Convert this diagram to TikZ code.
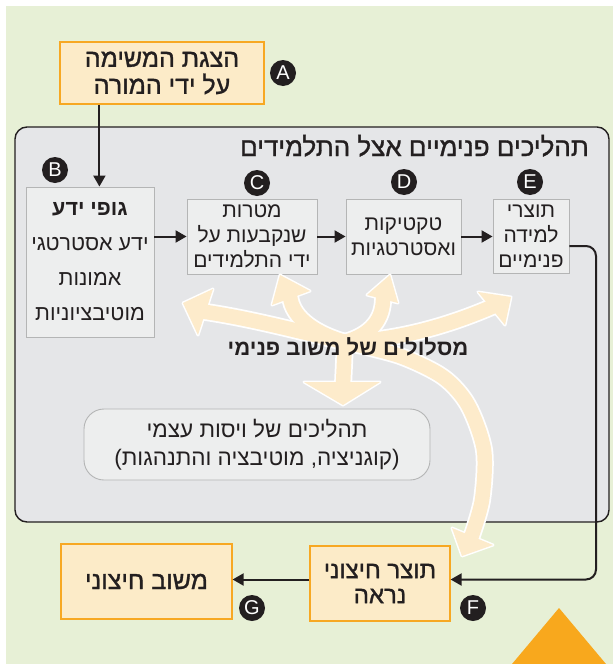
\documentclass[tikz,border=0pt]{standalone}
\usepackage{fontspec}
\setmainfont{Liberation Sans}
\newfontfamily\heb[Script=Hebrew]{Liberation Sans}
\newfontfamily\hebmed[Script=Hebrew,FakeBold=1.2]{Liberation Sans}
\usetikzlibrary{arrows.meta}
\TeXXeTstate=1
\newcommand\R[1]{\beginR #1\endR}
\newcommand\fs[2]{\fontsize{#1}{#2}\selectfont}
\definecolor{bggreen}{HTML}{E7F0D6}
\definecolor{panelgray}{HTML}{E5E6E8}
\definecolor{boxgray}{HTML}{EDEEEE}
\definecolor{boxline}{HTML}{B4B5B5}
\definecolor{orfill}{HTML}{FCEBC8}
\definecolor{orline}{HTML}{F7A823}
\definecolor{cream}{HTML}{FDEBCB}
\definecolor{ink}{HTML}{231F20}
\definecolor{tri}{HTML}{F8A81D}
\newcommand\starshafts[1]{%
  \draw[#1] (O) .. controls (300,332) and (250,318) .. (199,311);
  \draw[#1] (O) .. controls (320,335) and (292,320) .. (290,296);
  \draw[#1] (O) .. controls (370,335) and (384,320) .. (383,296);
  \draw[#1] (O) .. controls (400,340) and (450,325) .. (494,306);
  \draw[#1] (O) -- (343,385);
  \draw[#1] plot[smooth] coordinates {(O) (400,356) (443,377) (468,405) (484,450) (482,500) (471,538)};
}
\newcommand\starheads[1]{%
  \path[#1] (183,303) -- (213,289) -- (198,335) -- cycle;
  \path[#1] (280,275) -- (310,291) -- (272,305) -- cycle;
  \path[#1] (390,275) -- (398,303) -- (367,295) -- cycle;
  \path[#1] (511,297) -- (505,325) -- (478,292) -- cycle;
  \path[#1] (343,405) -- (304,382) -- (380,382) -- cycle;
  \path[#1] (462,556) -- (452,528) -- (493,545) -- cycle;
}
\begin{document}
\begin{tikzpicture}[x=1pt,y=-1pt,
  every node/.style={text=ink},
  orbox/.style={draw=orline,fill=orfill,line width=1.2pt,align=center,inner sep=0pt},
  gbox/.style={draw=boxline,fill=boxgray,line width=0.9pt,align=center,inner sep=0pt},
  badge/.style={circle,fill=ink,text=white,minimum size=26pt,inner sep=0pt,font=\fs{20}{20}},
  arr/.style={draw=ink,line width=2pt,-{Triangle[length=11pt,width=12pt]}}]
\useasboundingbox (0,0) rectangle (613,664);
\fill[white] (0,0) rectangle (613,664);
\fill[bggreen] (6,6) rectangle (613,664);
% panel
\path[draw=ink,fill=panelgray,line width=1.4pt,rounded corners=12pt] (15,127) rectangle (609,522);
\node[anchor=base east,inner sep=0pt,font=\hebmed\fs{26}{30}] (title) at (589,156) {\R{תהליכים פנימיים אצל התלמידים}};
% boxes
\node[orbox,minimum width=204pt,minimum height=62pt,font=\hebmed\fs{25}{27}] (A) at (162,73) {\R{הצגת המשימה}\\\R{על ידי המורה}};
\node[gbox,minimum width=128pt,minimum height=150pt,font=\heb\fs{21.5}{35}] (B) at (90,262) {\R{\bfseries גופי ידע}\\\R{ידע אסטרטגי}\\\R{אמונות}\\\R{מוטיבציוניות}};
\node[gbox,minimum width=130pt,minimum height=75pt,font=\heb\fs{21}{25}] (C) at (252,236.5) {\R{מטרות}\\\R{שנקבעות על}\\\R{ידי התלמידים}};
\node[gbox,minimum width=115pt,minimum height=75pt,font=\heb\fs{21}{25}] (D) at (403.5,236.5) {\R{טקטיקות}\\\R{ואסטרטגיות}};
\node[gbox,minimum width=76pt,minimum height=74pt,font=\heb\fs{21}{25}] (E) at (531,236) {\R{תוצרי}\\\R{למידה}\\\R{פנימיים}};
\node[gbox,rounded corners=20pt,minimum width=346pt,minimum height=71pt,font=\heb\fs{22.5}{28}] (S) at (257,444.5) {\R{תהליכים של ויסות עצמי}\\\R{(קוגניציה, מוטיבציה והתנהגות)}};
\node[orbox,minimum width=140pt,minimum height=75pt,font=\hebmed\fs{24}{25}] (F) at (380,583.5) {\R{תוצר חיצוני}\\\R{נראה}};
\node[orbox,minimum width=171pt,minimum height=75pt,font=\hebmed\fs{25}{25}] (G) at (146.5,581.5) {\R{משוב חיצוני}};
% cream star
\coordinate (O) at (345,342);
\starshafts{draw=white,line width=18pt,line cap=round}
\starheads{fill=white,draw=white,line width=3pt,line join=round}
\starshafts{draw=cream,line width=14.5pt,line cap=round}
\starheads{fill=cream}
\node[inner sep=0pt,font=\heb\bfseries\fs{22}{24}] (M) at (348,347) {\R{מסלולים של משוב פנימי}};
% connectors
\draw[arr] ([xshift=40pt]A.south west) -- ([xshift=40pt]A.south west |- B.north);
\draw[arr] (B.east |- C.west) -- (C.west);
\draw[arr] (C.east) -- (D.west);
\draw[arr] (D.east) -- (E.west |- D.east);
\coordinate (Fin) at ([yshift=4pt]F.east);
\draw[arr,rounded corners=10pt] ([yshift=-10pt]E.east) -| (596,400) |- (Fin);
\draw[arr] ([yshift=4pt]F.west) -- ([yshift=4pt]F.west -| G.east);
% badges
\node[badge] (bA) at (283,73) {A};
\node[badge] (bB) at (55,170) {B};
\node[badge] (bC) at (257,183) {C};
\node[badge] (bD) at (404,182) {D};
\node[badge] (bE) at (530,182) {E};
\node[badge] (bF) at (473,608) {F};
\node[badge] (bG) at (252,608) {G};
% triangle
\fill[tri] (559,608) -- (606,664) -- (512,664) -- cycle;
\end{tikzpicture}
\end{document}
